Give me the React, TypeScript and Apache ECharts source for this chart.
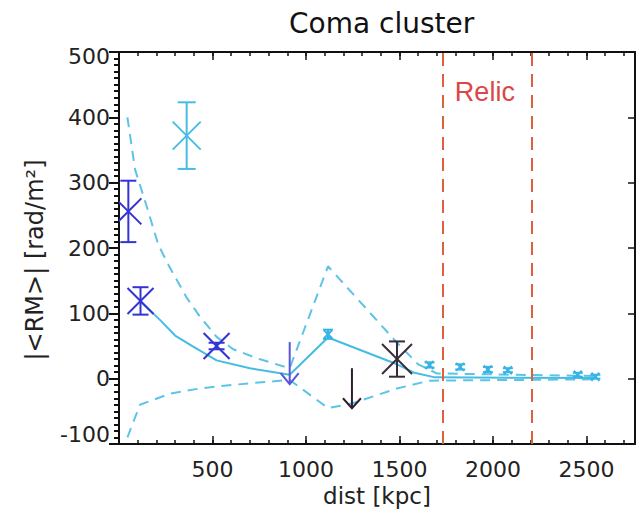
import React, { useEffect, useRef } from 'react';
import * as echarts from 'echarts';

// ---- data (dist [kpc], |<RM>| [rad/m^2]) ----
const xTickLabels = [500, 1000, 1500, 2000, 2500];
const yTickLabels = [-100, 0, 100, 200, 300, 400, 500];

const upperDashed = [
  [45, 400], [86, 320], [150, 262], [210, 205], [272, 170], [362, 124], [433, 95],
  [522, 64], [611, 45], [750, 30], [913, 16], [1118, 172], [1487, 55], [1600, 22],
  [1700, 8], [2548, 4],
];
const lowerDashed = [
  [45, -90], [112, -40], [272, -23], [433, -15], [522, -12], [700, -7], [913, -2],
  [1118, -45], [1246, -38], [1487, -15], [1661, -3], [2548, -1],
];
const solidModel = [
  [115, 118], [219, 90], [300, 66], [397, 49], [522, 28], [700, 16], [913, 6],
  [1118, 63], [1487, 22], [1580, 9], [1690, 2], [2548, 1],
];

// [dist, value, error]
const darkBluePoints = [[50, 256, 47], [115, 119, 21], [522, 50, 5]];
const cyanBigPoints = [[362, 372, 51]];
const cyanSmallPoints = [
  [1118, 68, 7], [1661, 21, 4], [1825, 18, 4], [1973, 14, 4], [2080, 13, 3],
  [2454, 6, 3], [2548, 3, 3],
];
const blackPoints = [[1487, 30, 27]];
// upper limits [dist, value]
const blueLimits = [[913, 56]];
const blackLimits = [[1246, 16]];

const relicEdges = [1730, 2210];
const relicLabel = [[1957, 439]];

const TICK_FONT = 'DejaVu Sans';

function crossRenderer(half: number, cap: number, color: string, width: number) {
  return (params: any, api: any) => {
    const x = api.value(0);
    const y = api.value(1);
    const e = api.value(2);
    const c = api.coord([x, y]);
    const t = api.coord([x, y + e]);
    const b = api.coord([x, y - e]);
    const style = { stroke: color, lineWidth: width, fill: 'none' };
    return {
      type: 'group',
      children: [
        { type: 'line', shape: { x1: c[0] - half, y1: c[1] - half, x2: c[0] + half, y2: c[1] + half }, style },
        { type: 'line', shape: { x1: c[0] - half, y1: c[1] + half, x2: c[0] + half, y2: c[1] - half }, style },
        { type: 'line', shape: { x1: t[0], y1: t[1], x2: b[0], y2: b[1] }, style },
        { type: 'line', shape: { x1: t[0] - cap, y1: t[1], x2: t[0] + cap, y2: t[1] }, style },
        { type: 'line', shape: { x1: b[0] - cap, y1: b[1], x2: b[0] + cap, y2: b[1] }, style },
      ],
    };
  };
}

function arrowRenderer(len: number, headW: number, headH: number, color: string, width: number) {
  return (params: any, api: any) => {
    const c = api.coord([api.value(0), api.value(1)]);
    const tipY = c[1] + len;
    const style = { stroke: color, lineWidth: width, fill: 'none' };
    return {
      type: 'group',
      children: [
        { type: 'line', shape: { x1: c[0], y1: c[1], x2: c[0], y2: tipY }, style },
        { type: 'polyline', shape: { points: [[c[0] - headW, tipY - headH], [c[0], tipY], [c[0] + headW, tipY - headH]] }, style },
      ],
    };
  };
}

export default function App() {
  const ref = useRef<HTMLDivElement>(null);

  useEffect(() => {
    document.body.style.margin = '0';
    if (!ref.current) return;
    const chart = echarts.init(ref.current, undefined, { renderer: 'svg' });

    const axisColor = '#111';
    const baseX = {
      type: 'value',
      min: 0,
      max: 2760,
      splitLine: { show: false },
    };
    const baseY = {
      type: 'value',
      min: -100,
      max: 500,
      splitLine: { show: false },
    };
    const hiddenLine = { show: false, onZero: false };
    const shownLine = { show: true, onZero: false, lineStyle: { color: axisColor, width: 2 } };
    const tick = (len: number, w = 1.5, inside = true) => ({ show: true, inside, length: len, lineStyle: { color: axisColor, width: w } });

    const option: any = {
      animation: false,
      backgroundColor: '#fff',
      title: {
        text: 'Coma cluster',
        left: 284,
        top: 4,
        textStyle: { fontFamily: TICK_FONT, fontSize: 28, fontWeight: 'normal', color: '#111' },
      },
      grid: { left: 119, right: 2, top: 52, bottom: 75, containLabel: false },
      xAxis: [
        {
          ...baseX,
          interval: 100,
          position: 'bottom',
          axisLine: shownLine,
          axisTick: tick(4),
          axisLabel: {
            show: true,
            margin: 14,
            fontFamily: TICK_FONT,
            fontSize: 22,
            color: '#222',
            formatter: (v: number) => (xTickLabels.indexOf(v) >= 0 ? String(v) : ''),
          },
          name: 'dist [kpc]',
          nameLocation: 'middle',
          nameGap: 40,
          nameTextStyle: { fontFamily: TICK_FONT, fontSize: 23, color: '#222' },
        },
        {
          ...baseX,
          interval: 500,
          position: 'bottom',
          axisLine: hiddenLine,
          axisTick: tick(8),
          axisLabel: { show: false },
        },
        {
          ...baseX,
          interval: 100,
          position: 'top',
          axisLine: shownLine,
          axisTick: tick(4),
          axisLabel: { show: false },
        },
        {
          ...baseX,
          interval: 500,
          position: 'top',
          axisLine: hiddenLine,
          axisTick: tick(8),
          axisLabel: { show: false },
        },
      ],
      yAxis: [
        {
          ...baseY,
          interval: 100,
          position: 'left',
          axisLine: shownLine,
          axisTick: tick(10, 2, false),
          axisLabel: {
            show: true,
            margin: 9,
            fontFamily: TICK_FONT,
            fontSize: 22,
            color: '#222',
            formatter: (v: number) => {
              if (yTickLabels.indexOf(v) < 0) return '';
              if (v === -100) return '{lo|' + v + '}';
              if (v === 500) return '{hi|' + v + '}';
              return String(v);
            },
            rich: {
              lo: { fontFamily: TICK_FONT, fontSize: 22, color: '#222', padding: [0, 0, 20, 0] },
              hi: { fontFamily: TICK_FONT, fontSize: 22, color: '#222', padding: [8, 0, 0, 0] },
            },
          },
          name: '|<RM>| [rad/m²]',
          nameLocation: 'middle',
          nameGap: 72,
          nameTextStyle: { fontFamily: TICK_FONT, fontSize: 24, color: '#222', padding: [0, 24, 0, 0] },
        },
        {
          ...baseY,
          interval: 100,
          position: 'right',
          axisLine: shownLine,
          axisTick: tick(7),
          axisLabel: { show: false },
        },
        {
          ...baseY,
          interval: 10,
          position: 'left',
          axisLine: hiddenLine,
          axisTick: tick(5, 2, false),
          axisLabel: { show: false },
        },
      ],
      series: [
        {
          type: 'line',
          data: upperDashed,
          symbol: 'none',
          lineStyle: { color: '#5cc4e6', width: 2, type: [10, 7] },
          z: 2,
        },
        {
          type: 'line',
          data: lowerDashed,
          symbol: 'none',
          lineStyle: { color: '#5cc4e6', width: 2, type: [10, 7] },
          z: 2,
        },
        {
          type: 'line',
          data: solidModel,
          symbol: 'none',
          lineStyle: { color: '#45bce2', width: 2 },
          z: 3,
        },
        {
          type: 'scatter',
          data: relicLabel,
          symbol: 'circle',
          symbolSize: 2,
          itemStyle: { color: 'rgba(255,255,255,0)' },
          label: {
            show: true,
            position: 'inside',
            formatter: 'Relic',
            fontFamily: 'Liberation Sans',
            fontSize: 27,
            color: '#dc4646',
            textBorderWidth: 0,
            opacity: 1,
          },
          markLine: {
            silent: true,
            symbol: ['none', 'none'],
            label: { show: false },
            lineStyle: { color: '#e0603e', width: 2, type: [13, 8] },
            data: relicEdges.map((x) => ({ xAxis: x })),
          },
          z: 4,
        },
        {
          type: 'custom',
          data: darkBluePoints,
          renderItem: crossRenderer(13, 8, '#3434d2', 2),
          encode: { x: 0, y: 1 },
          clip: true,
          z: 5,
        },
        {
          type: 'custom',
          data: cyanBigPoints,
          renderItem: crossRenderer(14, 9, '#48bde2', 2),
          encode: { x: 0, y: 1 },
          z: 5,
        },
        {
          type: 'custom',
          data: cyanSmallPoints,
          renderItem: crossRenderer(4, 5, '#36b4e6', 2),
          encode: { x: 0, y: 1 },
          z: 5,
        },
        {
          type: 'custom',
          data: blackPoints,
          renderItem: crossRenderer(15, 8, '#3a2a3c', 2),
          encode: { x: 0, y: 1 },
          z: 5,
        },
        {
          type: 'custom',
          data: blueLimits,
          renderItem: arrowRenderer(42, 9, 11, '#5a55d8', 2),
          encode: { x: 0, y: 1 },
          z: 5,
        },
        {
          type: 'custom',
          data: blackLimits,
          renderItem: arrowRenderer(40, 9, 10, '#2e1e30', 2),
          encode: { x: 0, y: 1 },
          z: 5,
        },
      ],
    };

    chart.setOption(option);
    return () => chart.dispose();
  }, []);

  return <div ref={ref} style={{ width: 638, height: 519 }} />;
}
